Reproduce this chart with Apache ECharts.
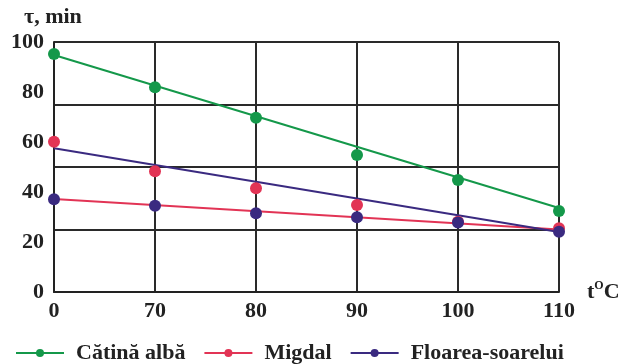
<!DOCTYPE html>
<html><head><meta charset="utf-8">
<script src="https://cdn.jsdelivr.net/npm/echarts@6/dist/echarts.min.js"></script>
<style>html,body{margin:0;padding:0;background:#fff}#c{width:625px;height:364px}</style>
</head><body><div id="c"></div>
<script>
const categories = ['0', '70', '80', '90', '100', '110'];
const yTicks = [0, 20, 40, 60, 80, 100];
const seriesNames = ['Cătină albă', 'Migdal', 'Floarea-soarelui'];
// measured points (markers)
const catinaPts = [95.2, 81.9, 69.7, 54.8, 44.8, 32.4];
const migdalPts = [60.1, 48.3, 41.5, 34.8, 28.1, 25.5];
const floareaPts = [37.1, 34.5, 31.5, 29.9, 27.8, 24.1];
// drawn trend lines (end points)
const catinaLine = [94.8, '-', '-', '-', '-', 33.6];
const redLine = [37.2, '-', '-', '-', '-', 25.0];
const darkLine = [57.5, '-', '-', '-', '-', 24.0];

const GREEN = '#14984a', RED = '#e23455', BLUE = '#3a2a80';
const FONT = '"Liberation Serif", "DejaVu Serif", serif';

function markers(name, data, color, z) {
  return { name, type: 'line', data, symbol: 'circle', symbolSize: 12,
    itemStyle: { color }, lineStyle: { color, width: 2, opacity: 0 }, z, silent: true };
}
function trend(name, data, color, z) {
  return { name, type: 'line', data, connectNulls: true, showSymbol: false, symbol: 'none',
    lineStyle: { color, width: 2 }, itemStyle: { color }, z, silent: true };
}

const chart = echarts.init(document.getElementById('c'));
chart.setOption({
  animation: false,
  backgroundColor: '#fff',
  grid: { left: 54, right: 66, top: 42, bottom: 72 },
  legend: {
    left: 10, top: 337, itemWidth: 48, itemHeight: 10, itemGap: 18,
    textStyle: { fontFamily: FONT, fontWeight: 'bold', fontSize: 22, color: '#222', padding: [0, 0, 0, 7] },
    data: seriesNames.map(n => ({ name: n, lineStyle: { opacity: 1, width: 2 } }))
  },
  xAxis: {
    type: 'category', data: categories, boundaryGap: false,
    axisLine: { lineStyle: { color: '#222', width: 2 } }, axisTick: { show: false },
    splitLine: { show: true, lineStyle: { color: '#2a2a2a', width: 2 } },
    axisLabel: { fontFamily: FONT, fontWeight: 'bold', fontSize: 22, color: '#222', margin: 8 },
    name: '{a|t}{s|O}{a|C}', nameLocation: 'end', nameGap: 28,
    nameTextStyle: { rich: {
      a: { fontFamily: FONT, fontWeight: 'bold', fontSize: 22, color: '#222' },
      s: { fontFamily: FONT, fontWeight: 'bold', fontSize: 12, color: '#222', padding: [0, 0, 12, 0] }
    } }
  },
  yAxis: [{
    type: 'value', min: yTicks[0], max: yTicks[yTicks.length - 1], interval: 20,
    axisLine: { show: true, lineStyle: { color: '#222', width: 2 } }, axisTick: { show: false },
    splitLine: { show: false },
    axisLabel: { fontFamily: FONT, fontWeight: 'bold', fontSize: 22, color: '#222', margin: 10 },
    name: 'τ, min', nameLocation: 'end', nameGap: 14,
    nameTextStyle: { fontFamily: FONT, fontWeight: 'bold', fontSize: 22, color: '#222', align: 'left', padding: [0, 0, 0, -30] }
  }, {
    type: 'value', min: 0, max: 100, interval: 25, position: 'left',
    axisLine: { show: false }, axisTick: { show: false }, axisLabel: { show: false },
    splitLine: { show: true, lineStyle: { color: '#2a2a2a', width: 2 } }
  }],
  series: [
    markers(seriesNames[0], catinaPts, GREEN, 5),
    markers(seriesNames[1], migdalPts, RED, 5),
    markers(seriesNames[2], floareaPts, BLUE, 6),
    trend(seriesNames[0], catinaLine, GREEN, 3),
    trend(seriesNames[2], redLine, RED, 3),
    trend(seriesNames[1], darkLine, BLUE, 3)
  ]
});
</script></body></html>
